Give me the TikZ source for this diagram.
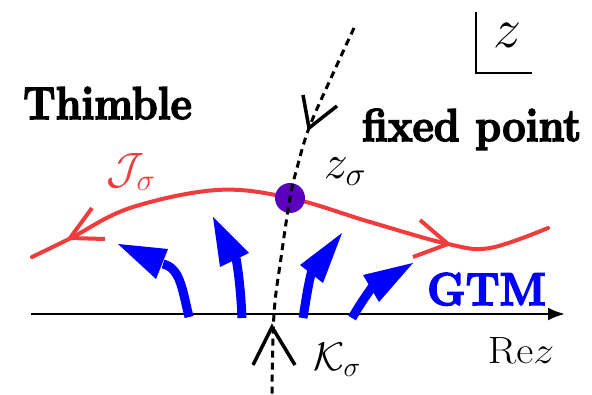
\RequirePackage{fix-cm}
\documentclass[tikz,border=0pt]{standalone}
\usetikzlibrary{arrows.meta}
\definecolor{thimred}{RGB}{240,60,60}
\definecolor{gtmblue}{RGB}{0,0,255}
\definecolor{dotpurple}{RGB}{90,0,190}
\newcommand{\bigbold}{\fontsize{46}{50}\usefont{OT1}{cmr}{bx}{n}}
\newcommand{\heavytext}[1]{\special{pdf:literal direct 2 Tr 1.6 w}#1\special{pdf:literal direct 0 Tr 0.4 w}}
\tikzset{
  bigtext/.style={inner sep=0pt, font=\bigbold, xscale=0.9},
  mathlbl/.style={inner sep=0pt},
  thimble/.style={draw=thimred, line width=4pt, line cap=round},
  flowline/.style={draw=black, line width=3pt, dash pattern=on 7pt off 5pt},
  openhead/.style={draw=black, line width=3.5pt, line join=miter},
  shaft/.style={draw=gtmblue, line width=9pt},
  headfill/.style={fill=gtmblue},
}
\begin{document}
\begin{tikzpicture}[x=1pt,y=-1pt]
\useasboundingbox (0,0) rectangle (592,395);

% complex-plane marker
\coordinate (c1) at (476,12);
\coordinate (c2) at (476,73);
\coordinate (c3) at (532,73);
\draw[line width=2pt] (c1) -- (c2) -- (c3);
\node[mathlbl, font=\fontsize{56}{60}\selectfont] (zlbl) at (507,35) {$z$};

% real axis
\coordinate (axL) at (31,314);
\coordinate (axR) at (565,314);
\draw[line width=2.5pt, -{Latex[length=17pt,width=13pt]}] (axL) -- (axR);
\node[mathlbl, font=\fontsize{38}{42}\selectfont, xscale=1.1] (rez) at (521,351) {$\mathrm{Re}z$};

% thimble curve
\draw[thimble] plot[smooth, tension=0.6] coordinates {(32,257) (71,238) (130,208) (217,190) (290,198) (370,222) (448,244) (490,248) (548,228)};
\draw[thimble, line cap=butt] (92,208) -- (70,238) -- (105,239);
\draw[thimble, line cap=butt] (420,220) -- (448,244) -- (413,257);

% fixed point
\node[circle, fill=dotpurple, minimum size=30pt, inner sep=0pt] (fp) at (290,198) {};

% flow line (dashed)
\draw[flowline] plot[smooth, tension=0.6] coordinates {(354,28) (331,78) (309,128) (297,168) (290,198) (281,258) (274,314) (272,395)};
\draw[openhead] (303,95) -- (309,128) -- (337,106);
\draw[openhead] (253,365) -- (272,327) -- (295,365);

% GTM arrows
\draw[shaft] (189,317) .. controls (182,288) and (180,268) .. (163,264);
\fill[headfill] (118,244) -- (168,249) -- (156,279) -- cycle;
\draw[shaft] (242,318) .. controls (241,295) and (239,275) .. (236,258);
\fill[headfill] (213,217) -- (249,253) -- (220,267) -- cycle;
\draw[shaft] (303,318) .. controls (306,300) and (308,285) .. (312,270);
\fill[headfill] (342,233) -- (300,265) -- (323,283) -- cycle;
\draw[shaft] (352,318) .. controls (358,308) and (364,298) .. (373,286);
\fill[headfill] (413,263) -- (363,275) -- (379,302) -- cycle;

% labels
\node[bigtext, anchor=base west] (thim) at (23,119) {\heavytext{Thimble}};
\node[bigtext, anchor=base west] (fpt) at (362,141) {\heavytext{fixed point}};
\node[bigtext, anchor=base west, text=gtmblue, xscale=1.05] (gtm) at (427,305) {\heavytext{GTM}};
\node[mathlbl, font=\fontsize{44}{48}\selectfont, text=thimred] (jlbl) at (131,172) {$\mathcal{J}_\sigma$};
\node[mathlbl, font=\fontsize{48}{52}\selectfont] (zs) at (345,172) {$z_\sigma$};
\node[mathlbl, font=\fontsize{40}{44}\selectfont] (ks) at (337,360) {$\mathcal{K}_\sigma$};
\end{tikzpicture}
\end{document}
